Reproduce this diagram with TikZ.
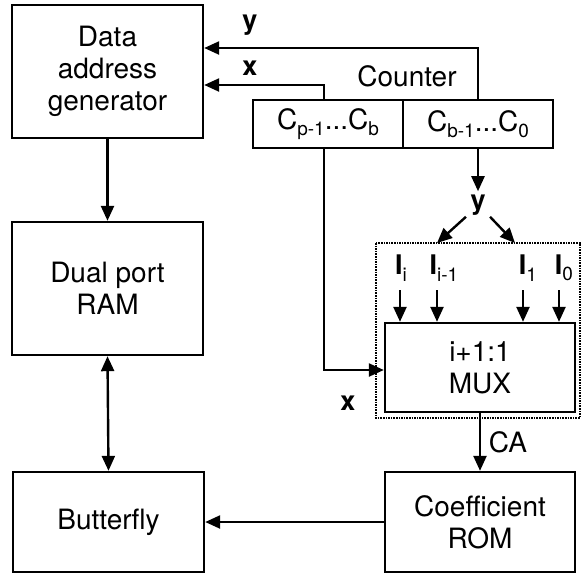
\documentclass[tikz,border=0pt]{standalone}
\usepackage{fontspec}
\setmainfont{TeX Gyre Heros}
\usetikzlibrary{arrows.meta}
\newcommand{\sbs}[1]{\raisebox{-0.45ex}{\fontsize{19}{21}\selectfont #1}}
\begin{document}
\begin{tikzpicture}[x=1pt,y=-1pt,
  blk/.style={draw,line width=2.4pt,inner sep=0pt,align=center,font=\fontsize{28}{32}\selectfont},
  arr/.style={line width=2.4pt,-{Triangle[length=15pt,width=13pt]}},
  darr/.style={line width=2.4pt,{Triangle[length=15pt,width=13pt]}-{Triangle[length=15pt,width=13pt]}},
  lbl/.style={font=\fontsize{28}{32}\selectfont},
  blbl/.style={font=\fontsize{27}{31}\selectfont\bfseries}]
\useasboundingbox (0,0) rectangle (586,574);
\node[blk,minimum width=191pt,minimum height=133pt] (dag) at (107.5,71.5) {Data\\address\\generator};
\node[blk,minimum width=191pt,minimum height=133pt] (ram) at (107.5,288.5) {Dual port\\RAM};
\node[blk,minimum width=191pt,minimum height=100pt] (bf) at (108.5,522) {Butterfly};
\node[blk,minimum width=190pt,minimum height=100pt] (rom) at (480,522) {Coefficient\\ROM};
\node[blk,minimum width=190pt,minimum height=89pt] (mux) at (480,367.5) {i+1:1\\MUX};
\node[blk,minimum width=150pt,minimum height=48pt] (cl) at (328,124) {C\sbs{p-1}...C\sbs{b}};
\node[blk,minimum width=150pt,minimum height=48pt] (cr) at (478,124) {C\sbs{b-1}...C\sbs{0}};
\node[lbl] (cnt) at (407,76) {Counter};
\draw[line width=1.6pt,densely dotted] (376,243) rectangle (580,418);
% y and x to DAG
\draw[arr] (cr.north) |- (dag.east |- 0,48);
\node[blbl] (ylt) at (250,25) {y};
\draw[arr] (cl.north -| 324,0) |- (dag.east |- 0,85);
\node[blbl] (xlt) at (250,68) {x};
% y down
\node[blbl] (yb) at (478,205) {y};
\draw[arr] (cr.south) -- (yb.north);
\coordinate (ya) at (437,243);
\coordinate (yc) at (515,243);
\draw[arr] (yb.south west) ++(-1,-2) -- (ya);
\draw[arr] (yb.south east) ++(1,-2) -- (yc);
% inputs
\node[blbl] (ii) at (401,268) {I\sbs{\normalfont i}};
\node[blbl] (ii1) at (444,268) {I\sbs{\normalfont i-1}};
\node[blbl] (i1) at (528,268) {I\sbs{\normalfont 1}};
\node[blbl] (i0) at (564,268) {I\sbs{\normalfont 0}};
\draw[arr] (400,290) -- (mux.north -| 400,0);
\draw[arr] (437,290) -- (mux.north -| 437,0);
\draw[arr] (523,290) -- (mux.north -| 523,0);
\draw[arr] (559,290) -- (mux.north -| 559,0);
% x to MUX
\draw[arr] (cl.south -| 324,0) |- (mux.west |- 0,370);
\node[blbl] (xb) at (348,403) {x};
% others
\draw[arr] (dag.south) -- (ram.north);
\draw[darr] (ram.south) -- (bf.north);
\draw[arr] (mux.south) -- (rom.north);
\node[lbl] (ca) at (508,442) {CA};
\draw[arr] (rom.west) -- (bf.east);
\end{tikzpicture}
\end{document}
